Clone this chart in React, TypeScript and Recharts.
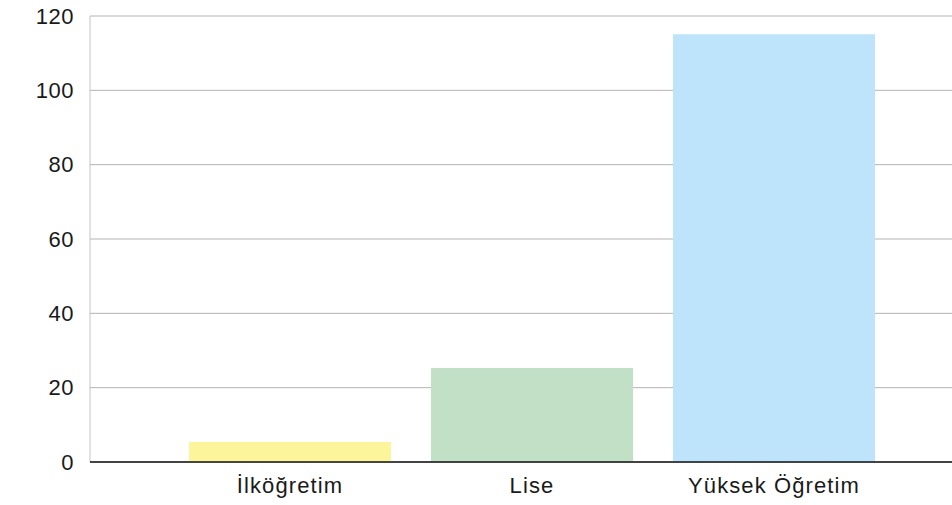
import React from "react";
import { BarChart, Bar, XAxis, YAxis, CartesianGrid, Cell } from "recharts";

const categories = ["İlköğretim", "Lise", "Yüksek Öğretim"];
const values = [5.4, 25.3, 115.1];
const barColors = ["#FDF59B", "#C2E0C6", "#BDE4FA"];
const yTicks = [0, 20, 40, 60, 80, 100, 120];

const data = categories.map((name, i) => ({ name, value: values[i] }));

const font = "'Liberation Sans', Arial, Helvetica, sans-serif";

export default function App() {
  return (
    <div style={{ position: "absolute", left: 0, top: 0 }}>
      <BarChart
        width={952}
        height={505}
        data={data}
        margin={{ top: 16, right: 0, bottom: 0, left: 0 }}
        barCategoryGap={20}
      >
        <CartesianGrid vertical={false} stroke="#b4b4b4" strokeWidth={1} />
        <YAxis
          width={90}
          domain={[0, 120]}
          ticks={yTicks}
          interval={0}
          tickLine={false}
          tickSize={0}
          tickMargin={16}
          axisLine={{ stroke: "#c4c4c4", strokeWidth: 1 }}
          tick={{ fill: "#1a1a1a", fontSize: 22, fontFamily: font, letterSpacing: 0.5 }}
        />
        <XAxis
          dataKey="name"
          height={43}
          padding={{ left: 79, right: 57 }}
          tickLine={false}
          tickSize={0}
          tickMargin={15}
          axisLine={{ stroke: "#111111", strokeWidth: 1.5 }}
          tick={{ fill: "#1a1a1a", fontSize: 22, fontFamily: font, letterSpacing: 1.1 }}
        />
        <Bar dataKey="value" isAnimationActive={false}>
          {data.map((d, i) => (
            <Cell key={d.name} fill={barColors[i]} />
          ))}
        </Bar>
      </BarChart>
    </div>
  );
}
